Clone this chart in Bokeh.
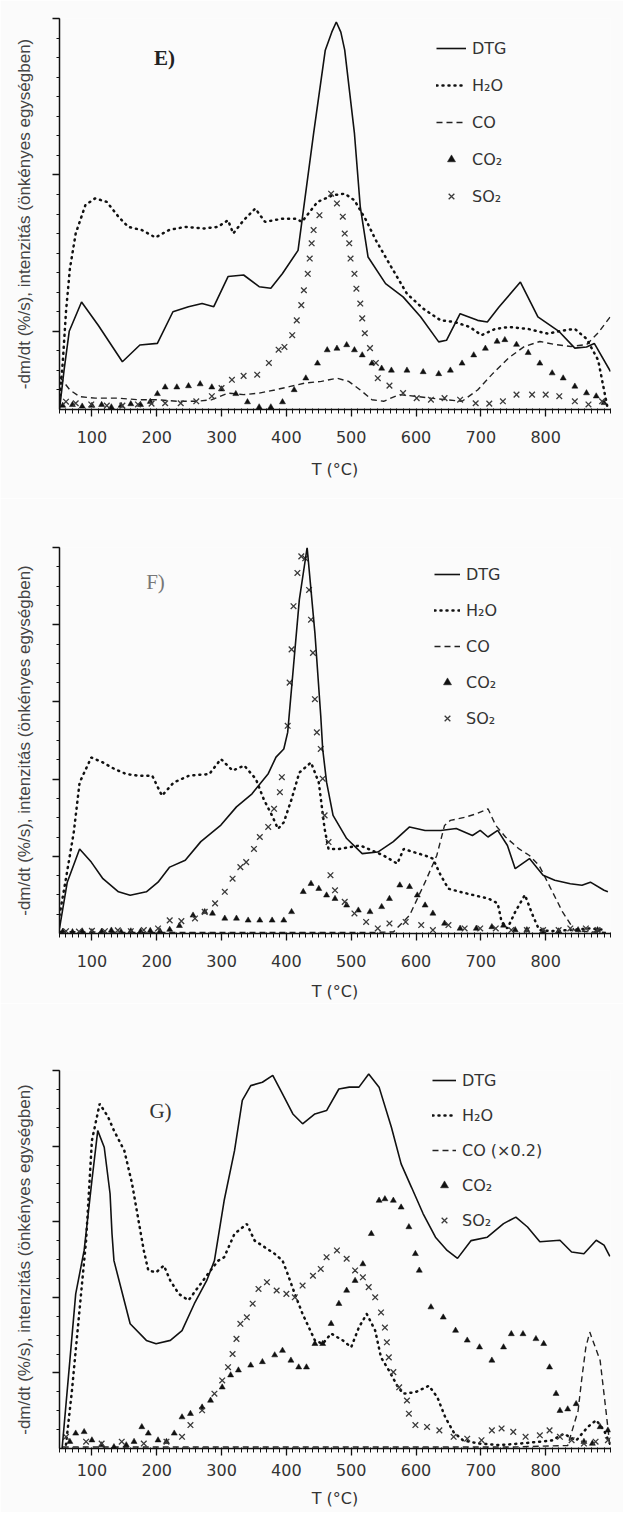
from bokeh.plotting import figure
from bokeh.models import Range1d, FixedTicker, Legend, LegendItem, Label, CustomJSTickFormatter
from bokeh.layouts import column
from bokeh.embed import file_html
from bokeh.resources import INLINE

# ---------------- Panel E ----------------
E_DTG_T = [50, 57, 65, 84, 110, 147, 174, 201, 225, 249, 270, 288, 310, 334, 358, 376, 394, 418, 442, 460, 470, 477, 484, 490, 505, 514, 526, 553, 580, 607, 635, 647, 668, 695, 710, 728, 761, 788, 821, 845, 863, 875, 900]
E_DTG_V = [0.0, 0.10, 0.20, 0.275, 0.215, 0.122, 0.165, 0.169, 0.25, 0.263, 0.271, 0.263, 0.34, 0.344, 0.314, 0.31, 0.348, 0.407, 0.706, 0.919, 0.965, 0.991, 0.965, 0.919, 0.706, 0.518, 0.39, 0.322, 0.288, 0.237, 0.173, 0.177, 0.245, 0.228, 0.224, 0.262, 0.326, 0.237, 0.199, 0.157, 0.16, 0.169, 0.097]
E_H2O_T = [50, 55, 60, 66, 75, 90, 105, 123, 141, 156, 177, 198, 219, 243, 273, 294, 310, 318, 334, 352, 367, 394, 415, 424, 448, 472, 490, 505, 523, 538, 547, 562, 586, 611, 638, 659, 683, 701, 722, 743, 773, 803, 827, 845, 863, 881, 890, 896]
E_H2O_V = [0.02, 0.12, 0.25, 0.36, 0.45, 0.523, 0.54, 0.531, 0.493, 0.467, 0.459, 0.44, 0.459, 0.467, 0.463, 0.467, 0.484, 0.45, 0.484, 0.514, 0.48, 0.488, 0.488, 0.48, 0.531, 0.548, 0.552, 0.535, 0.484, 0.433, 0.407, 0.364, 0.296, 0.258, 0.228, 0.224, 0.211, 0.19, 0.206, 0.211, 0.206, 0.194, 0.202, 0.206, 0.181, 0.126, 0.05, 0.0]
E_CO_T = [50, 66, 81, 105, 141, 171, 201, 231, 261, 285, 310, 334, 358, 382, 406, 430, 454, 478, 496, 514, 532, 550, 574, 598, 623, 647, 671, 695, 719, 743, 767, 791, 815, 839, 863, 881, 900]
E_CO_V = [0.084, 0.05, 0.033, 0.029, 0.029, 0.025, 0.025, 0.021, 0.021, 0.025, 0.042, 0.038, 0.042, 0.05, 0.059, 0.068, 0.072, 0.08, 0.072, 0.05, 0.025, 0.021, 0.038, 0.034, 0.029, 0.025, 0.021, 0.05, 0.093, 0.132, 0.161, 0.174, 0.166, 0.161, 0.166, 0.196, 0.238]
E_CO2_T = [55, 70, 85, 100, 115, 130, 145, 160, 175, 190, 201, 213, 231, 249, 267, 285, 300, 322, 340, 358, 376, 394, 412, 430, 448, 463, 478, 493, 505, 517, 532, 547, 562, 586, 611, 635, 653, 671, 689, 707, 725, 737, 755, 773, 791, 810, 827, 845, 863, 878, 890]
E_CO2_V = [0.01, 0.012, 0.008, 0.01, 0.012, 0.006, 0.01, 0.014, 0.012, 0.02, 0.04, 0.057, 0.057, 0.06, 0.065, 0.057, 0.052, 0.04, 0.019, 0.006, 0.006, 0.019, 0.05, 0.08, 0.118, 0.152, 0.156, 0.165, 0.152, 0.139, 0.118, 0.105, 0.1, 0.1, 0.096, 0.091, 0.1, 0.118, 0.139, 0.156, 0.174, 0.178, 0.166, 0.145, 0.118, 0.093, 0.08, 0.059, 0.042, 0.034, 0.017]
E_SO2_T = [60, 75, 99, 123, 147, 171, 192, 213, 237, 261, 285, 300, 316, 334, 355, 373, 388, 397, 409, 416, 423, 427, 433, 436, 439, 442, 451, 469, 478, 487, 490, 497, 499, 505, 508, 514, 517, 521, 529, 538, 541, 559, 580, 601, 623, 644, 668, 692, 713, 734, 755, 779, 800, 821, 845, 866, 887]
E_SO2_V = [0.02, 0.016, 0.013, 0.01, 0.01, 0.013, 0.015, 0.016, 0.016, 0.021, 0.034, 0.055, 0.076, 0.086, 0.089, 0.119, 0.153, 0.16, 0.19, 0.228, 0.267, 0.305, 0.347, 0.386, 0.425, 0.459, 0.497, 0.552, 0.527, 0.493, 0.45, 0.425, 0.386, 0.347, 0.309, 0.271, 0.233, 0.195, 0.157, 0.119, 0.08, 0.061, 0.042, 0.029, 0.025, 0.029, 0.025, 0.016, 0.015, 0.021, 0.038, 0.038, 0.038, 0.034, 0.021, 0.013, 0.021]

# ---------------- Panel F ----------------
F_DTG_T = [50, 62, 81, 99, 117, 141, 159, 184, 202, 220, 244, 268, 299, 323, 347, 372, 384, 396, 402, 411, 420, 432, 444, 453, 456, 462, 472, 493, 517, 541, 565, 590, 614, 638, 662, 687, 699, 711, 726, 741, 753, 775, 796, 814, 838, 856, 869, 890, 896]
F_DTG_V = [0.013, 0.133, 0.219, 0.185, 0.142, 0.108, 0.099, 0.108, 0.133, 0.172, 0.19, 0.238, 0.281, 0.328, 0.362, 0.414, 0.457, 0.478, 0.521, 0.693, 0.865, 1.0, 0.779, 0.564, 0.478, 0.392, 0.306, 0.246, 0.207, 0.211, 0.238, 0.276, 0.267, 0.267, 0.272, 0.254, 0.267, 0.25, 0.267, 0.228, 0.168, 0.194, 0.151, 0.138, 0.129, 0.125, 0.133, 0.112, 0.108]
F_H2O_T = [50, 59, 72, 81, 99, 117, 135, 153, 171, 193, 208, 226, 250, 281, 299, 317, 335, 353, 365, 378, 387, 396, 408, 420, 438, 450, 459, 465, 481, 499, 514, 532, 550, 571, 581, 596, 614, 626, 638, 650, 668, 687, 711, 726, 732, 741, 753, 768, 780, 790, 808, 838, 868, 893]
F_H2O_V = [0.047, 0.133, 0.262, 0.391, 0.456, 0.443, 0.426, 0.413, 0.409, 0.409, 0.357, 0.391, 0.409, 0.413, 0.452, 0.422, 0.435, 0.4, 0.348, 0.305, 0.271, 0.288, 0.348, 0.417, 0.443, 0.391, 0.271, 0.219, 0.219, 0.224, 0.228, 0.215, 0.202, 0.181, 0.219, 0.211, 0.202, 0.194, 0.151, 0.116, 0.108, 0.1, 0.091, 0.078, 0.03, 0.013, 0.056, 0.1, 0.047, 0.009, 0.006, 0.009, 0.013, 0.009]
F_CO_T = [50, 150, 300, 450, 540, 565, 590, 614, 632, 644, 653, 675, 693, 711, 723, 738, 759, 775, 790, 808, 826, 844, 868, 893]
F_CO_V = [0.005, 0.003, 0.003, 0.003, 0.003, 0.004, 0.047, 0.133, 0.202, 0.28, 0.293, 0.301, 0.31, 0.323, 0.28, 0.25, 0.219, 0.202, 0.176, 0.116, 0.056, 0.009, 0.004, 0.003]
F_CO2_T = [55, 70, 85, 100, 115, 130, 145, 160, 175, 190, 205, 220, 235, 256, 274, 286, 305, 323, 341, 359, 378, 396, 408, 426, 438, 450, 462, 475, 493, 511, 529, 547, 559, 575, 590, 602, 614, 626, 644, 668, 693, 717, 735, 753, 771, 796, 820, 850, 880]
F_CO2_V = [0.005, 0.004, 0.006, 0.004, 0.005, 0.008, 0.004, 0.006, 0.005, 0.007, 0.006, 0.01, 0.02, 0.047, 0.056, 0.052, 0.039, 0.039, 0.034, 0.034, 0.034, 0.034, 0.056, 0.108, 0.129, 0.116, 0.099, 0.09, 0.073, 0.06, 0.056, 0.069, 0.09, 0.125, 0.121, 0.099, 0.073, 0.052, 0.026, 0.013, 0.013, 0.017, 0.021, 0.009, 0.009, 0.006, 0.006, 0.009, 0.009]
F_SO2_T = [60, 80, 100, 120, 140, 160, 180, 202, 220, 238, 259, 274, 290, 305, 317, 329, 338, 350, 359, 372, 381, 390, 393, 402, 405, 408, 411, 417, 423, 429, 435, 438, 441, 444, 447, 453, 456, 459, 465, 468, 475, 490, 505, 523, 541, 559, 584, 608, 626, 650, 675, 699, 723, 747, 771, 796, 820, 838, 862, 880]
F_SO2_V = [0.006, 0.005, 0.007, 0.006, 0.008, 0.006, 0.009, 0.013, 0.034, 0.032, 0.039, 0.056, 0.078, 0.108, 0.142, 0.172, 0.185, 0.219, 0.25, 0.276, 0.323, 0.366, 0.405, 0.538, 0.65, 0.736, 0.848, 0.934, 0.977, 0.972, 0.89, 0.813, 0.727, 0.607, 0.521, 0.478, 0.401, 0.306, 0.237, 0.151, 0.112, 0.082, 0.052, 0.03, 0.013, 0.026, 0.03, 0.022, 0.009, 0.022, 0.013, 0.013, 0.013, 0.009, 0.009, 0.009, 0.009, 0.013, 0.013, 0.009]

# ---------------- Panel G ----------------
G_DTG_T = [54, 66, 75, 88, 100, 109, 119, 128, 131, 134, 159, 184, 199, 221, 239, 258, 277, 289, 304, 320, 332, 345, 363, 379, 394, 410, 425, 444, 462, 481, 497, 512, 527, 543, 562, 577, 593, 611, 630, 648, 664, 685, 710, 735, 754, 772, 791, 822, 840, 859, 878, 890, 899]
G_DTG_V = [0.0, 0.233, 0.409, 0.524, 0.709, 0.841, 0.797, 0.674, 0.568, 0.497, 0.33, 0.286, 0.277, 0.286, 0.312, 0.383, 0.444, 0.497, 0.656, 0.788, 0.921, 0.96, 0.969, 0.987, 0.938, 0.885, 0.859, 0.885, 0.894, 0.951, 0.956, 0.956, 0.991, 0.956, 0.85, 0.753, 0.691, 0.621, 0.559, 0.524, 0.503, 0.55, 0.559, 0.595, 0.612, 0.586, 0.547, 0.551, 0.52, 0.515, 0.551, 0.538, 0.508]
G_H2O_T = [60, 69, 80, 91, 100, 112, 125, 134, 150, 162, 171, 180, 187, 199, 211, 221, 234, 249, 264, 283, 295, 304, 320, 339, 351, 367, 382, 394, 400, 413, 425, 444, 456, 469, 487, 500, 512, 524, 537, 546, 558, 571, 580, 599, 620, 633, 645, 658, 673, 698, 729, 760, 785, 809, 828, 847, 865, 878, 890, 899]
G_H2O_V = [0.01, 0.15, 0.35, 0.55, 0.815, 0.912, 0.877, 0.841, 0.788, 0.7, 0.612, 0.524, 0.471, 0.466, 0.484, 0.444, 0.409, 0.392, 0.427, 0.471, 0.497, 0.506, 0.568, 0.594, 0.55, 0.532, 0.515, 0.497, 0.471, 0.409, 0.356, 0.286, 0.277, 0.304, 0.286, 0.268, 0.321, 0.356, 0.312, 0.241, 0.207, 0.166, 0.145, 0.149, 0.166, 0.135, 0.083, 0.043, 0.021, 0.013, 0.009, 0.013, 0.017, 0.021, 0.039, 0.021, 0.057, 0.075, 0.048, 0.013]
G_CO_T = [55, 150, 300, 450, 600, 750, 834, 850, 856, 862, 868, 884, 893, 899]
G_CO_V = [0.004, 0.004, 0.004, 0.004, 0.004, 0.004, 0.008, 0.1, 0.189, 0.268, 0.308, 0.233, 0.1, 0.008]
G_CO2_T = [66, 75, 88, 100, 115, 134, 153, 165, 177, 187, 202, 215, 227, 239, 252, 270, 283, 301, 314, 326, 345, 363, 382, 394, 407, 419, 431, 444, 456, 469, 481, 493, 506, 518, 531, 543, 552, 565, 577, 589, 599, 605, 623, 642, 661, 679, 698, 717, 735, 747, 765, 785, 797, 806, 816, 822, 834, 847, 859, 872, 884, 896]
G_CO2_V = [0.018, 0.04, 0.044, 0.022, 0.009, 0.004, 0.009, 0.018, 0.057, 0.04, 0.022, 0.018, 0.04, 0.083, 0.092, 0.109, 0.127, 0.162, 0.194, 0.207, 0.22, 0.229, 0.247, 0.259, 0.233, 0.215, 0.215, 0.277, 0.277, 0.33, 0.383, 0.418, 0.444, 0.488, 0.568, 0.656, 0.66, 0.656, 0.638, 0.586, 0.515, 0.471, 0.374, 0.347, 0.312, 0.286, 0.268, 0.233, 0.268, 0.303, 0.303, 0.29, 0.277, 0.215, 0.145, 0.1, 0.104, 0.118, 0.018, 0.013, 0.057, 0.048]
G_SO2_T = [60, 91, 115, 146, 180, 215, 239, 252, 270, 289, 301, 310, 317, 323, 329, 339, 348, 357, 370, 385, 400, 413, 425, 441, 453, 462, 478, 493, 506, 518, 527, 537, 546, 552, 555, 558, 565, 574, 586, 589, 599, 617, 636, 658, 679, 701, 717, 732, 750, 769, 791, 806, 822, 840, 859, 877, 896]
G_SO2_V = [0.031, 0.018, 0.013, 0.018, 0.013, 0.018, 0.031, 0.062, 0.101, 0.145, 0.18, 0.215, 0.25, 0.29, 0.33, 0.347, 0.383, 0.422, 0.44, 0.418, 0.409, 0.4, 0.431, 0.457, 0.475, 0.506, 0.524, 0.502, 0.471, 0.453, 0.427, 0.4, 0.36, 0.32, 0.281, 0.241, 0.202, 0.162, 0.127, 0.092, 0.062, 0.057, 0.048, 0.031, 0.026, 0.022, 0.048, 0.053, 0.044, 0.031, 0.035, 0.048, 0.031, 0.022, 0.013, 0.018, 0.022]

X_TICKS = [100, 200, 300, 400, 500, 600, 700, 800]
X_MINOR = list(range(50, 901, 10))
Y_LABEL = "-dm/dt (%/s), intenzitás (önkényes egységben)"
X_LABEL = "T (°C)"
LEGEND_E = ["DTG", "H\u2082O", "CO", "CO\u2082", "SO\u2082"]
LEGEND_G = ["DTG", "H\u2082O", "CO (\u00d70.2)", "CO\u2082", "SO\u2082"]
BG = "#fbfbfb"
INK = "#111111"


def make_panel(tag, tag_style, tag_color, tag_xy, series, labels, y_major, h, bl, br, bt, bb,
               lab_standoff, axlab_standoff, leg_xy, leg_spacing, leg_glyph_w):
    p = figure(width=623, height=h, x_range=Range1d(50, 900), y_range=Range1d(0, 1),
               output_backend="svg", toolbar_location=None,
               min_border_left=bl, min_border_right=br, min_border_top=bt, min_border_bottom=bb)
    p.background_fill_color = BG
    p.border_fill_color = BG
    p.outline_line_color = None
    p.xgrid.visible = False
    p.ygrid.visible = False

    xa = p.xaxis[0]
    xa.ticker = FixedTicker(ticks=X_TICKS, minor_ticks=X_MINOR)
    xa.axis_line_color = INK
    xa.axis_line_width = 1.5
    xa.major_tick_line_color = INK
    xa.major_tick_line_width = 1.3
    xa.major_tick_out = 7
    xa.major_tick_in = 0
    xa.minor_tick_line_color = INK
    xa.minor_tick_line_width = 1.0
    xa.minor_tick_out = 4
    xa.minor_tick_in = 1
    xa.major_label_text_font = "DejaVu Sans"
    xa.major_label_text_font_size = "16px"
    xa.major_label_text_color = "#333333"
    xa.major_label_standoff = lab_standoff
    xa.axis_label = X_LABEL
    xa.axis_label_text_font = "DejaVu Sans"
    xa.axis_label_text_font_size = "16px"
    xa.axis_label_text_font_style = "normal"
    xa.axis_label_text_color = "#333333"
    xa.axis_label_standoff = axlab_standoff

    ya = p.yaxis[0]
    minors = [round(0.05 * i, 2) for i in range(1, 21)]
    ya.ticker = FixedTicker(ticks=y_major, minor_ticks=minors)
    ya.formatter = CustomJSTickFormatter(code="return '';")
    ya.axis_line_color = INK
    ya.axis_line_width = 1.5
    ya.major_tick_line_color = INK
    ya.major_tick_line_width = 1.3
    ya.major_tick_out = 7
    ya.major_tick_in = 0
    ya.minor_tick_line_color = INK
    ya.minor_tick_out = 3
    ya.minor_tick_in = 0
    ya.major_label_standoff = 0
    ya.axis_label = Y_LABEL
    ya.axis_label_text_font = "Liberation Sans"
    ya.axis_label_text_font_size = "17px"
    ya.axis_label_text_font_style = "normal"
    ya.axis_label_text_color = "#444444"
    ya.axis_label_standoff = 19

    (dt, dv), (ht, hv), (ct, cv), (c2t, c2v), (st, sv) = series
    r_co = p.line(ct, cv, line_color="#222222", line_width=1.4, line_dash="6 4")
    r_h2o = p.line(ht, hv, line_color=INK, line_width=2.5, line_dash="1 5", line_cap="round")
    r_co2 = p.scatter(c2t, c2v, marker="triangle", size=6, fill_color=INK, line_color=INK, line_width=0.5)
    r_so2 = p.scatter(st, sv, marker="x", size=8, line_color="#3a3a3a", line_width=1.3)
    r_dtg = p.line(dt, dv, line_color=INK, line_width=1.6)

    items = [LegendItem(label=labels[0], renderers=[r_dtg]),
             LegendItem(label=labels[1], renderers=[r_h2o]),
             LegendItem(label=labels[2], renderers=[r_co]),
             LegendItem(label=labels[3], renderers=[r_co2]),
             LegendItem(label=labels[4], renderers=[r_so2])]
    leg = Legend(items=items, location=leg_xy, orientation="vertical",
                 spacing=leg_spacing, padding=0, margin=0,
                 glyph_width=leg_glyph_w, glyph_height=20, label_height=20,
                 label_standoff=6, border_line_color=None, background_fill_alpha=0,
                 label_text_font="DejaVu Sans", label_text_font_size="16px",
                 label_text_color="#333333")
    p.add_layout(leg)

    p.add_layout(Label(x=tag_xy[0], y=tag_xy[1], x_units="screen", y_units="screen",
                       text=tag, text_font="Liberation Serif", text_font_size="21px",
                       text_font_style=tag_style, text_color=tag_color,
                       text_align="center", text_baseline="middle"))
    return p


pE = make_panel("E)", "bold", "#222222", (105, 352),
                [(E_DTG_T, E_DTG_V), (E_H2O_T, E_H2O_V), (E_CO_T, E_CO_V), (E_CO2_T, E_CO2_V), (E_SO2_T, E_SO2_V)],
                LEGEND_E, [0.2, 0.6, 1.0], 498, 59, 3, 18, 89, 14, 14, (377, 203), 17, 30)
pF = make_panel("F)", "normal", "#777777", (96, 352),
                [(F_DTG_T, F_DTG_V), (F_H2O_T, F_H2O_V), (F_CO_T, F_CO_V), (F_CO2_T, F_CO2_V), (F_SO2_T, F_SO2_V)],
                LEGEND_E, [0.2, 0.4, 0.6, 0.8, 1.0], 505, 58, 8, 49, 68, 14, 12, (375, 205), 16, 26)
pG = make_panel("G)", "normal", "#333333", (101, 338),
                [(G_DTG_T, G_DTG_V), (G_H2O_T, G_H2O_V), (G_CO_T, G_CO_V), (G_CO2_T, G_CO2_V), (G_SO2_T, G_SO2_V)],
                LEGEND_G, [0.2, 0.4, 0.6, 0.8, 1.0], 509, 55, 13, 67, 64, 8, 10, (373, 218), 15, 24)

layout = column(pE, pF, pG, spacing=0)
open("out.html", "w").write(file_html(layout, INLINE))
